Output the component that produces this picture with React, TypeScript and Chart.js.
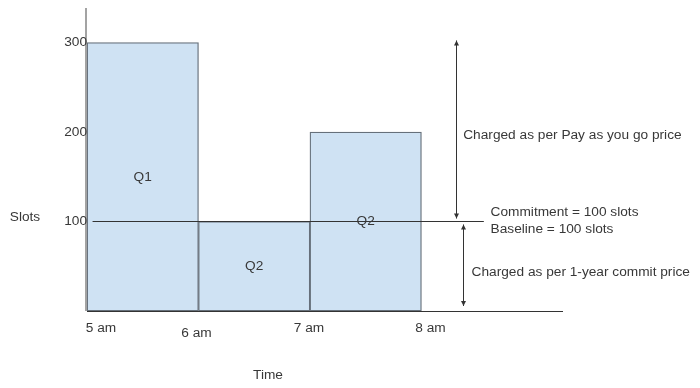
import React, { useEffect, useRef } from "react";
import { Chart, registerables } from "chart.js";

Chart.register(...registerables);

// ---- data ----
const hours = [5, 6, 7, 8];
const hourLabels = ["5 am", "6 am", "7 am", "8 am"];
const slotTicks = [100, 200, 300];
const quarterStarts = [5, 6, 7];
const quarterSlots = [300, 100, 200];
const quarterNames = ["Q1", "Q2", "Q2"];
const commitment = 100;
const payAsYouGoText = "Charged as per Pay as you go price";
const commitLines = ["Commitment = 100 slots", "Baseline = 100 slots"];
const commitPriceText = "Charged as per 1-year commit price";
const xTitle = "Time";
const yTitle = "Slots";

const FONT = '13.7px "Liberation Sans", Arial, Helvetica, sans-serif';
const TEXT = "#383838";

function arrowHead(ctx: CanvasRenderingContext2D, x: number, y: number, dir: number) {
  ctx.beginPath();
  ctx.moveTo(x, y);
  ctx.lineTo(x - 2.5, y - dir * 5);
  ctx.lineTo(x + 2.5, y - dir * 5);
  ctx.closePath();
  ctx.fill();
}

const annotate = {
  id: "annotate",
  afterDatasetsDraw(chart: any) {
    const { ctx, chartArea } = chart;
    const xs = chart.scales.x;
    const ys = chart.scales.y;
    ctx.save();

    // axes
    ctx.strokeStyle = "#666";
    ctx.lineWidth = 1.2;
    ctx.beginPath();
    ctx.moveTo(chartArea.left - 1, chartArea.top);
    ctx.lineTo(chartArea.left - 1, chartArea.bottom);
    ctx.stroke();
    ctx.strokeStyle = "#333";
    ctx.beginPath();
    ctx.moveTo(chartArea.left, chartArea.bottom + 0.5);
    ctx.lineTo(chartArea.right, chartArea.bottom + 0.5);
    ctx.stroke();

    // commitment line
    const cy = Math.round(ys.getPixelForValue(commitment)) + 0.5;
    ctx.strokeStyle = "#333";
    ctx.lineWidth = 1;
    ctx.beginPath();
    ctx.moveTo(xs.getPixelForValue(5.05), cy);
    ctx.lineTo(xs.getPixelForValue(8.56), cy);
    ctx.stroke();

    // arrows
    ctx.fillStyle = "#333";
    const a1x = Math.round(xs.getPixelForValue(8.31)) + 0.5;
    const a1top = ys.getPixelForValue(quarterSlots[0]) - 2;
    const a1bot = cy - 3;
    ctx.beginPath();
    ctx.moveTo(a1x, a1top);
    ctx.lineTo(a1x, a1bot);
    ctx.stroke();
    arrowHead(ctx, a1x, a1top, -1);
    arrowHead(ctx, a1x, a1bot, 1);

    const a2x = Math.round(xs.getPixelForValue(8.37)) + 0.5;
    const a2top = cy + 3;
    const a2bot = ys.getPixelForValue(0) - 5;
    ctx.beginPath();
    ctx.moveTo(a2x, a2top);
    ctx.lineTo(a2x, a2bot);
    ctx.stroke();
    arrowHead(ctx, a2x, a2top, -1);
    arrowHead(ctx, a2x, a2bot, 1);

    // text
    ctx.font = FONT;
    ctx.fillStyle = TEXT;
    ctx.textBaseline = "middle";

    // y ticks
    ctx.textAlign = "right";
    slotTicks.forEach((v) => {
      ctx.fillText(String(v), chartArea.left, ys.getPixelForValue(v));
    });

    // x tick labels
    const nudge = [
      { dx: 14, dy: 0 },
      { dx: -2, dy: 5 },
      { dx: -1, dy: 0 },
      { dx: 9, dy: 0 },
    ];
    ctx.textAlign = "center";
    hours.forEach((h, i) => {
      ctx.fillText(
        hourLabels[i],
        xs.getPixelForValue(h) + nudge[i].dx,
        chartArea.bottom + 17 + nudge[i].dy
      );
    });

    // quarter labels
    quarterStarts.forEach((s, i) => {
      ctx.fillText(
        quarterNames[i],
        xs.getPixelForValue(s + 0.5),
        ys.getPixelForValue(quarterSlots[i] / 2)
      );
    });

    // axis titles
    ctx.fillText(xTitle, 268, 375);
    ctx.fillText(yTitle, 25, ys.getPixelForValue(commitment) - 4);

    // annotations
    ctx.textAlign = "left";
    ctx.fillText(payAsYouGoText, xs.getPixelForValue(8.375), 135);
    ctx.fillText(commitLines[0], xs.getPixelForValue(8.62), cy - 9);
    ctx.fillText(commitLines[1], xs.getPixelForValue(8.62), cy + 8);
    ctx.fillText(commitPriceText, xs.getPixelForValue(8.45), 272);

    ctx.restore();
  },
};

export default function App() {
  const ref = useRef<HTMLCanvasElement | null>(null);

  useEffect(() => {
    if (!ref.current) return;
    const chart = new Chart(ref.current, {
      type: "bar",
      data: {
        datasets: [
          {
            data: quarterStarts.map((s, i) => ({ x: s + 0.5, y: quarterSlots[i] })),
            backgroundColor: "#cfe2f3",
            borderColor: "#66707a",
            borderWidth: 1.3,
            borderSkipped: false,
            barPercentage: 1,
            categoryPercentage: 1,
          },
        ],
      },
      options: {
        animation: false,
        responsive: false,
        maintainAspectRatio: false,
        layout: { padding: { left: 87, right: 137, top: 8, bottom: 77 } },
        plugins: {
          legend: { display: false },
          tooltip: { enabled: false },
          title: { display: false },
        },
        scales: {
          x: {
            type: "linear",
            display: false,
            offset: false,
            min: 5,
            max: 9.27,
            afterBuildTicks: (scale: any) => {
              scale.ticks = hours.map((v) => ({ value: v }));
            },
          },
          y: {
            type: "linear",
            display: false,
            min: 0,
            max: 338.5,
          },
        },
      },
      plugins: [annotate],
    });
    return () => chart.destroy();
  }, []);

  return (
    <div
      style={{
        position: "fixed",
        left: 0,
        top: 0,
        width: 700,
        height: 388,
        background: "#ffffff",
      }}
    >
      <canvas ref={ref} width={700} height={388} />
    </div>
  );
}
